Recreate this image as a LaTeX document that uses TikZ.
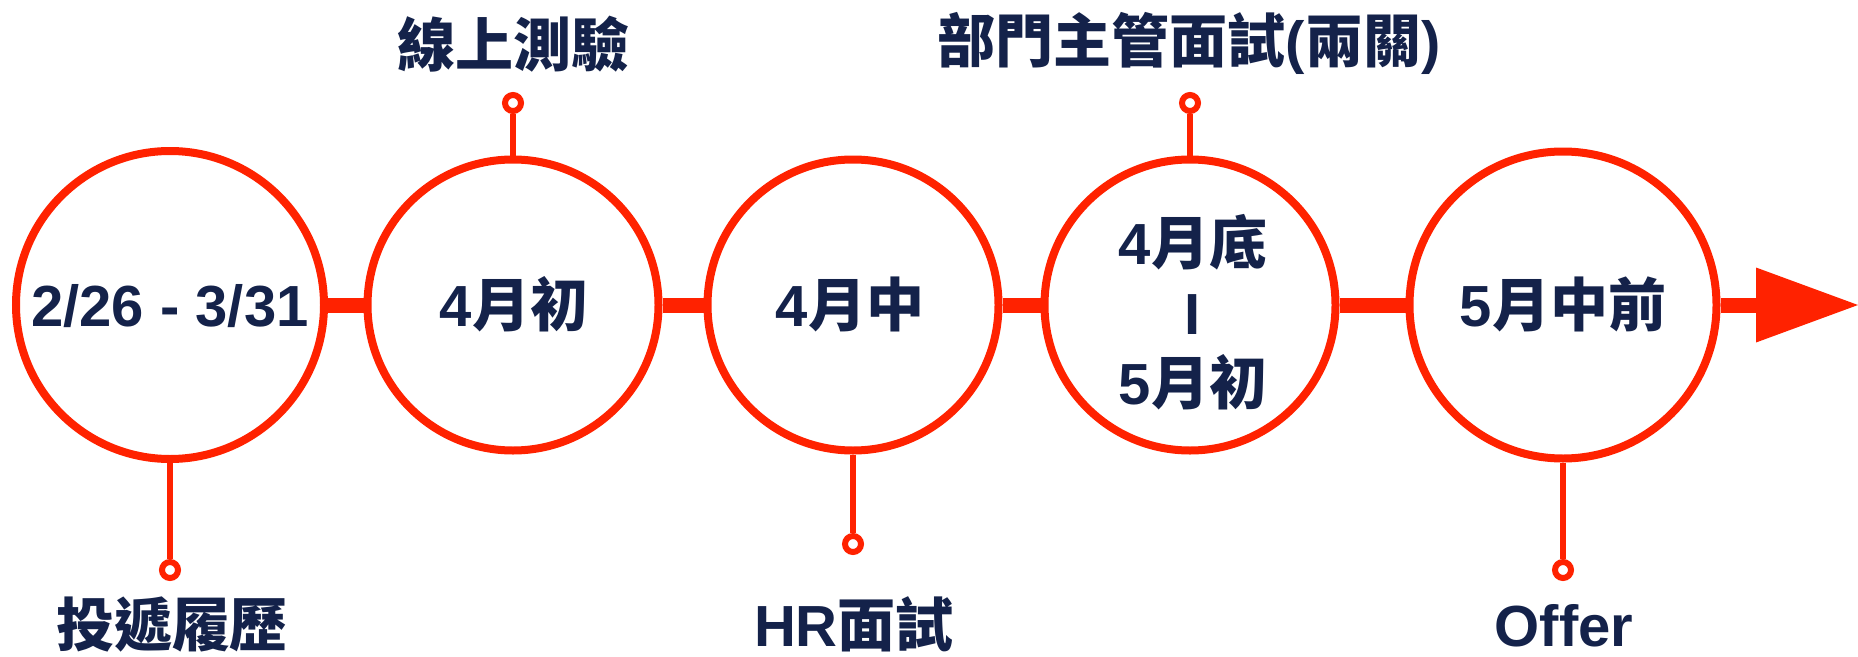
\documentclass[tikz,border=0pt]{standalone}
\usepackage{fontspec}
\setmainfont{Liberation Sans}
\newfontfamily\cjkfont{Noto Sans CJK TC}
\newcommand{\zhtxt}[1]{{\cjkfont #1}}
\usetikzlibrary{arrows.meta}
\definecolor{tred}{HTML}{FF2200}
\definecolor{tnavy}{HTML}{14224A}
\begin{document}
\begin{tikzpicture}[x=1pt,y=-1pt,
  stage/.style={circle,draw=tred,line width=8pt,fill=white,inner sep=0pt},
  pindot/.style={circle,draw=tred,line width=6pt,fill=white,inner sep=0pt,minimum size=16pt},
  stem/.style={draw=tred,line width=5.5pt},
  bar/.style={draw=tred,line width=15pt},
  lbl/.style={anchor=base,inner sep=0pt,text=tnavy,font=\fontsize{58}{70}\selectfont\bfseries}
]
\useasboundingbox[fill=white] (0,0) rectangle (1858,656);
% bars
\coordinate (tip) at (1858,305);
\node[stage,minimum size=308pt] (c1) at (170,305) {};
\node[stage,minimum size=291pt] (c2) at (513,305) {};
\node[stage,minimum size=291pt] (c3) at (853,305) {};
\node[stage,minimum size=291pt] (c4) at (1190,305) {};
\node[stage,minimum size=307pt] (c5) at (1563,305) {};
\draw[bar] (c1.east) -- (c2.west);
\draw[bar] (c2.east) -- (c3.west);
\draw[bar] (c3.east) -- (c4.west);
\draw[bar] (c4.east) -- (c5.west);
\draw[bar,-{Triangle[length=102pt,width=75pt,line width=0pt]},fill=tred] (c5.east) -- (tip);
% pins
\node[pindot] (p1) at (170,570) {};
\node[pindot] (p2) at (513,103) {};
\node[pindot] (p3) at (853,544) {};
\node[pindot] (p4) at (1190,103) {};
\node[pindot] (p5) at (1563,570) {};
\draw[stem] (c1.south) -- (p1.north);
\draw[stem] (c2.north) -- (p2.south);
\draw[stem] (c3.south) -- (p3.north);
\draw[stem] (c4.north) -- (p4.south);
\draw[stem] (c5.south) -- (p5.north);
% texts in circles
\node[lbl] (t1) at (170,326) {2/26 - 3/31};
\node[lbl] (t2) at (514,326) {4\zhtxt{月初}};
\node[lbl] (t3) at (850,326) {4\zhtxt{月中}};
\node[lbl,align=center] (t4) at (1193,404) {4\zhtxt{月底}\\I\\5\zhtxt{月初}};
\node[lbl] (t5) at (1563,326) {5\zhtxt{月中前}};
% labels
\node[lbl] (l1) at (172,646) {\zhtxt{投遞履歷}};
\node[lbl] (l2) at (513,66) {\zhtxt{線上測驗}};
\node[lbl] (l3) at (854,646) {HR\zhtxt{面試}};
\node[lbl] (l4) at (1189,62) {\zhtxt{部門主管面試}(\zhtxt{兩關})};
\node[lbl] (l5) at (1564,646) {Offer};
\end{tikzpicture}
\end{document}
